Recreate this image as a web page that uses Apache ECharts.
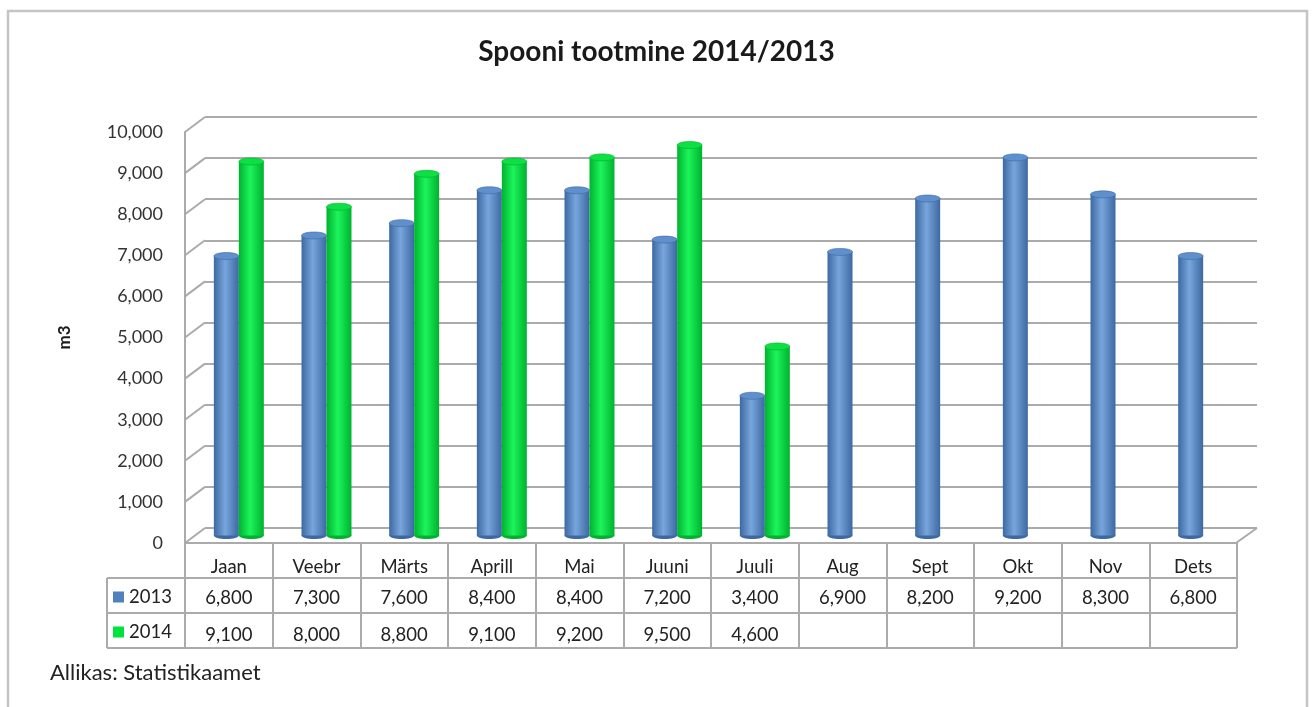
<!DOCTYPE html>
<html>
<head>
<meta charset="utf-8">
<script src="https://cdn.jsdelivr.net/npm/echarts@6/dist/echarts.min.js"></script>
<style>
  html, body { margin: 0; padding: 0; background: #fff; }
  #chart { width: 1313px; height: 707px; }
</style>
</head>
<body>
<div id="chart"></div>
<script>
// andmed
const months = ["Jaan", "Veebr", "Märts", "Aprill", "Mai", "Juuni", "Juuli", "Aug", "Sept", "Okt", "Nov", "Dets"];
const v2013 = [6800, 7300, 7600, 8400, 8400, 7200, 3400, 6900, 8200, 9200, 8300, 6800];
const v2014 = [9100, 8000, 8800, 9100, 9200, 9500, 4600, null, null, null, null, null];
const yTicks = [0, 1000, 2000, 3000, 4000, 5000, 6000, 7000, 8000, 9000, 10000];

const FONT = 'Lato, "Open Sans", sans-serif';
const GRID_COL = '#ababab';
const TXT = 18.5;
const fmt = v => (v == null ? '' : v.toLocaleString('en-US'));

// 3d nihe: tagasein / keskmine / esiserv
const W = 1052, H = 411;
const grids = [
  { left: 205, top: 117, width: W, height: H },
  { left: 195, top: 124.5, width: W, height: H },
  { left: 185, top: 132, width: W, height: H }
];

const colors = {
  '2013': { base: '#4f81bd', dark: '#3d69a2', light: '#78a5dc', top: '#5f90cd' },
  '2014': { base: '#00e33d', dark: '#00b22e', light: '#1cf45c', top: '#0ddf45' }
};

function cylinder(name, side) {
  const c = colors[name];
  return function (params, api) {
    const v = api.value(1);
    if (v == null || isNaN(v)) return;
    const cat = api.value(0);
    const top = api.coord([cat, v]);
    const base = api.coord([cat, 0]);
    const w = api.size([1, 0])[0] * 0.285;
    const x0 = side === 0 ? top[0] - w : top[0];
    const ry = 3.5;
    const grad = new echarts.graphic.LinearGradient(0, 0, 1, 0, [
      { offset: 0, color: c.dark },
      { offset: 0.45, color: c.light },
      { offset: 1, color: c.dark }
    ]);
    return {
      type: 'group',
      children: [
        { type: 'ellipse', shape: { cx: x0 + w / 2, cy: base[1], rx: w / 2, ry: ry }, style: { fill: c.dark } },
        { type: 'rect', shape: { x: x0, y: top[1], width: w, height: base[1] - top[1] }, style: { fill: grad } },
        { type: 'ellipse', shape: { cx: x0 + w / 2, cy: top[1], rx: w / 2, ry: ry }, style: { fill: c.top, stroke: c.dark, lineWidth: 0.6 } }
      ]
    };
  };
}

// külgseina diagonaalid
function sideWall(params, api) {
  const cs = params.coordSys;
  const y = api.coord([0, api.value(1)])[1];
  const kids = [{ type: 'line', shape: { x1: cs.x, y1: y, x2: cs.x - 20, y2: y + 15 }, style: { stroke: GRID_COL, lineWidth: 2 } }];
  if (api.value(1) === 0) {
    kids.push({ type: 'line', shape: { x1: cs.x + cs.width, y1: y, x2: cs.x + cs.width - 21, y2: y + 15 }, style: { stroke: GRID_COL, lineWidth: 2 } });
  }
  return { type: 'group', children: kids };
}

const chart = echarts.init(document.getElementById('chart'));

const tblLeft = 107, tblX = 185, rowY = [543, 578, 613, 648];
const tableLines = [
  { type: 'line', shape: { x1: tblLeft, y1: rowY[1], x2: tblX, y2: rowY[1] } },
  { type: 'line', shape: { x1: tblLeft, y1: rowY[2], x2: tblX, y2: rowY[2] } },
  { type: 'line', shape: { x1: tblLeft, y1: rowY[3], x2: tblX + W, y2: rowY[3] } },
  { type: 'line', shape: { x1: tblLeft, y1: rowY[1], x2: tblLeft, y2: rowY[3] } }
].map(l => Object.assign(l, { style: { stroke: GRID_COL, lineWidth: 2 }, silent: true }));

chart.setOption({
  animation: false,
  textStyle: { fontFamily: FONT },
  title: {
    text: 'Spooni tootmine 2014/2013',
    left: 'center',
    top: 33,
    textStyle: { fontFamily: FONT, fontSize: 28, fontWeight: 'bold', color: '#1a1a1a' }
  },
  legend: {
    data: ['2013', '2014'],
    orient: 'vertical',
    left: 113,
    top: 587,
    padding: 0,
    itemWidth: 11,
    itemHeight: 11,
    itemGap: 15,
    icon: 'rect',
    textStyle: { fontFamily: FONT, fontSize: TXT, color: '#222', lineHeight: 20 }
  },
  grid: grids,
  xAxis: [
    { gridIndex: 0, type: 'category', data: months, show: false },
    { gridIndex: 1, type: 'category', data: months, show: false },
    {
      gridIndex: 2, type: 'category', data: months,
      axisLine: { lineStyle: { color: GRID_COL, width: 2 } },
      axisTick: { show: true, interval: 0, length: 105, lineStyle: { color: GRID_COL, width: 2 } },
      axisLabel: { interval: 0, margin: 15, fontSize: TXT, color: '#222' }
    },
    {
      gridIndex: 2, type: 'category', data: v2013.map(fmt), position: 'bottom', offset: 35,
      axisLine: { lineStyle: { color: GRID_COL, width: 2 } },
      axisTick: { show: false },
      axisLabel: { interval: 0, margin: 11, fontSize: TXT, color: '#222' }
    },
    {
      gridIndex: 2, type: 'category', data: v2014.map(fmt), position: 'bottom', offset: 70,
      axisLine: { lineStyle: { color: GRID_COL, width: 2 } },
      axisTick: { show: false },
      axisLabel: { interval: 0, margin: 13, fontSize: TXT, color: '#222' }
    }
  ],
  yAxis: [
    {
      gridIndex: 0, type: 'value', min: 0, max: 10000, interval: 1000,
      axisLine: { show: false }, axisTick: { show: false }, axisLabel: { show: false },
      splitLine: { lineStyle: { color: GRID_COL, width: 2 } }
    },
    { gridIndex: 1, type: 'value', min: 0, max: 10000, interval: 1000, show: false, splitLine: { show: false } },
    {
      gridIndex: 2, type: 'value', min: 0, max: 10000, interval: 1000,
      name: 'm3', nameLocation: 'middle', nameGap: 112, nameRotate: 90,
      nameTextStyle: { fontFamily: FONT, fontSize: 17, fontWeight: 'bold', color: '#1a1a1a' },
      axisLine: { show: true, lineStyle: { color: GRID_COL, width: 2 } },
      axisTick: { show: false },
      splitLine: { show: false },
      axisLabel: { margin: 22, fontSize: 18, color: '#333', padding: [6, 0, 0, 0], formatter: v => fmt(v) }
    }
  ],
  series: [
    {
      type: 'custom', name: 'walls', xAxisIndex: 0, yAxisIndex: 0, silent: true,
      renderItem: sideWall, data: yTicks.map(t => [0, t]), z: 1
    },
    {
      type: 'custom', name: '2013', xAxisIndex: 1, yAxisIndex: 1,
      itemStyle: { color: colors['2013'].base },
      renderItem: cylinder('2013', 0),
      data: v2013.map((v, i) => [i, v]), z: 3
    },
    {
      type: 'custom', name: '2014', xAxisIndex: 1, yAxisIndex: 1,
      itemStyle: { color: colors['2014'].base },
      renderItem: cylinder('2014', 1),
      data: v2014.map((v, i) => [i, v]).filter(d => d[1] != null), z: 4
    }
  ],
  graphic: [
    { type: 'rect', shape: { x: 8, y: 11, width: 1299, height: 720 }, style: { fill: 'none', stroke: '#c4c4c4', lineWidth: 2.5 }, silent: true },
    ...tableLines,
    { type: 'text', left: 50, top: 662, style: { text: 'Allikas: Statistikaamet', font: '22px ' + FONT, fill: '#222' } }
  ]
});
</script>
</body>
</html>
